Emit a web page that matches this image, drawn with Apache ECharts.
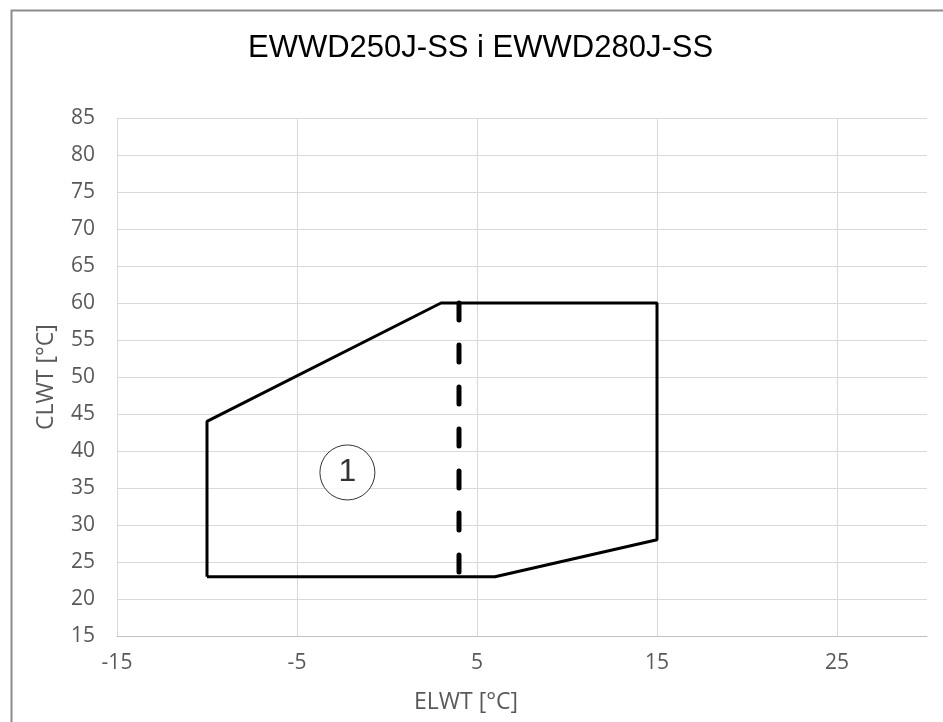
<!DOCTYPE html>
<html>
<head>
<meta charset="utf-8">
<script src="https://cdn.jsdelivr.net/npm/echarts@6/dist/echarts.min.js"></script>
<style>
  html, body { margin: 0; padding: 0; background: #fff; }
  #chart { width: 943px; height: 722px; }
</style>
</head>
<body>
<div id="chart"></div>
<script>
// envelope in ELWT / CLWT (°C)
const envelopeX = [-10, -10, 3, 15, 15, 6, -10]
const envelopeY = [23, 44, 60, 60, 28, 23, 23]
// dashed separator
const dividerX = [4, 4]
const dividerY = [60, 23]
// zone marker
const markerX = [-2.2]
const markerY = [37.1]
const markerLabels = ['1']

// x axis starts at -15 with labels every 10, so the scale is offset by 15
const X_OFFSET = 15
const toPairs = (xs, ys) => xs.map((x, i) => [x + X_OFFSET, ys[i]])

const chart = echarts.init(document.getElementById('chart'))

const labelFont = 'Open Sans'

const option = {
  backgroundColor: '#fff',
  animation: false,
  title: {
    text: 'EWWD250J-SS i EWWD280J-SS',
    left: 243,
    top: 28,
    textStyle: {
      fontFamily: 'Liberation Sans',
      fontSize: 31,
      fontWeight: 'normal',
      color: '#000'
    }
  },
  grid: {
    left: 117,
    right: 16,
    top: 118,
    bottom: 86
  },
  xAxis: {
    type: 'value',
    min: 0,
    max: 45,
    interval: 10,
    name: 'ELWT [°C]',
    nameLocation: 'middle',
    nameGap: 55,
    nameTextStyle: {
      fontFamily: labelFont,
      fontSize: 23,
      color: '#595959',
      padding: [0, 112, 0, 0] // Excel centres this title left of the plot middle
    },
    axisLine: { show: true, lineStyle: { color: '#bfbfbf', width: 1 } },
    axisTick: { show: false },
    axisLabel: {
      fontFamily: labelFont,
      fontSize: 21,
      color: '#595959',
      margin: 17,
      showMaxLabel: false,
      formatter: (v) => String(v - X_OFFSET)
    },
    splitLine: { show: true, showMaxLine: false, lineStyle: { color: '#d9d9d9', width: 1 } }
  },
  yAxis: {
    type: 'value',
    min: 15,
    max: 85,
    interval: 5,
    name: 'CLWT [°C]',
    nameLocation: 'middle',
    nameGap: 59,
    nameTextStyle: { fontFamily: labelFont, fontSize: 23, color: '#595959' },
    axisLine: { show: true, lineStyle: { color: '#d9d9d9', width: 1 } },
    axisTick: { show: false },
    axisLabel: {
      fontFamily: labelFont,
      fontSize: 21,
      color: '#595959',
      margin: 22
    },
    splitLine: { show: true, lineStyle: { color: '#d9d9d9', width: 1 } }
  },
  series: [
    {
      type: 'line',
      data: toPairs(envelopeX, envelopeY),
      symbol: 'none',
      lineStyle: { color: '#000', width: 3 },
      z: 3
    },
    {
      type: 'line',
      data: toPairs(dividerX, dividerY),
      symbol: 'none',
      lineStyle: { color: '#000', width: 5, type: [17, 25], cap: 'round' },
      z: 3
    },
    {
      type: 'scatter',
      data: toPairs(markerX, markerY).map((p, i) => ({ value: p, name: markerLabels[i] })),
      symbol: 'circle',
      symbolSize: 55,
      itemStyle: { color: '#fff', borderColor: '#000', borderWidth: 1 },
      label: {
        show: true,
        position: 'inside',
        formatter: (p) => p.name,
        fontFamily: 'Liberation Sans',
        fontSize: 32,
        color: '#000'
      },
      z: 4
    }
  ],
  graphic: [
    {
      type: 'rect',
      left: 9,
      top: 8,
      shape: { width: 960, height: 740 },
      style: { fill: 'none', stroke: '#8c8c8c', lineWidth: 2 },
      silent: true,
      z: 10
    }
  ]
}

chart.setOption(option)
</script>
</body>
</html>
